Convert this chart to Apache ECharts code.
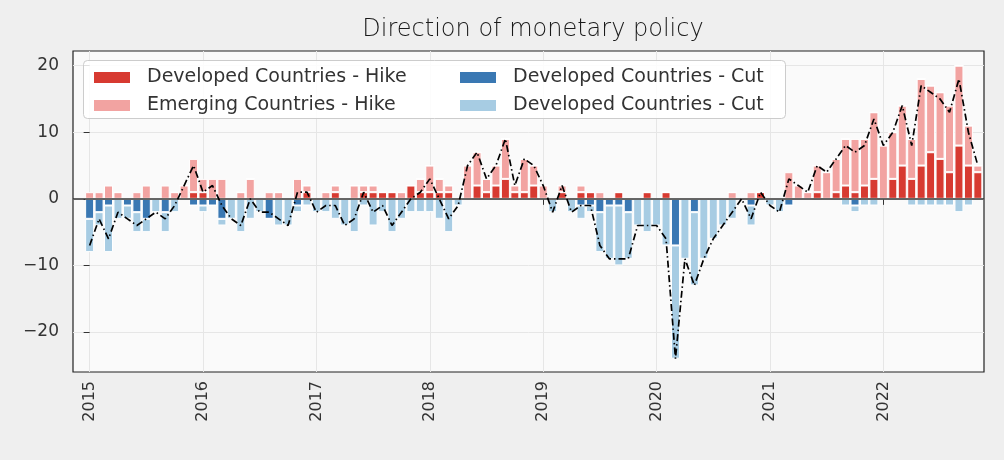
<!DOCTYPE html>
<html><head><meta charset="utf-8">
<script src="https://cdn.jsdelivr.net/npm/echarts@6/dist/echarts.min.js"></script>
<style>html,body{margin:0;padding:0;background:#efefef}#c{width:1004px;height:460px}</style>
</head><body><div id="c"></div>
<script>
// ---- data (monthly, 2015-01 .. 2022-11) ----
const startYear = 2015;
const yearLabels = ['2015','2016','2017','2018','2019','2020','2021','2022'];
const yTicks = [-20, -10, 0, 10, 20];
const dmHike = [
 0,0,0,0,0,0,0,0,0,0,0,1,
 1,0,0,0,0,0,0,0,0,0,0,1,
 0,0,1,0,0,1,1,1,1,0,2,1,
 1,1,1,0,0,2,1,2,3,1,1,2,
 0,0,1,0,1,1,0,0,1,0,0,1,
 0,1,0,0,0,0,0,0,0,0,0,1,
 0,0,0,0,0,1,0,1,2,1,2,3,
 0,3,5,3,5,7,6,4,8,5,4];
const emHike = [
 1,1,2,1,0,1,2,0,2,1,2,5,
 2,3,3,0,1,3,0,1,1,0,3,1,
 0,1,1,0,2,1,1,0,0,1,0,2,
 4,2,1,0,5,5,2,3,6,1,5,3,
 2,0,1,0,1,0,1,0,0,0,0,0,
 0,0,0,0,0,0,0,0,1,0,1,0,
 0,0,4,2,1,4,4,5,7,8,7,10,
 8,7,9,6,13,10,10,10,12,6,1];
const dmCut = [
 -3,-2,-1,0,-1,-2,-3,0,-2,0,0,-1,
 -1,-1,-3,0,0,0,0,-3,0,0,-1,0,
 0,0,0,0,0,0,0,0,0,0,0,0,
 0,0,0,0,0,0,0,0,0,0,0,0,
 0,0,0,0,-1,-1,-2,-1,-1,-2,0,0,
 0,0,-7,0,-2,0,0,0,0,0,-1,0,
 0,0,-1,0,0,0,0,0,0,-1,0,0,
 0,0,0,0,0,0,0,0,0,0,0];
const emCut = [
 -5,-2,-7,-3,-2,-3,-2,-2,-3,-2,0,0,
 -1,0,-1,-3,-5,-3,-2,0,-4,-4,-1,-1,
 -2,-2,-3,-4,-5,-1,-4,-2,-5,-3,-2,-2,
 -2,-3,-5,-1,0,0,0,0,0,0,0,0,
 0,-2,0,-2,-2,-1,-6,-8,-9,-7,-4,-5,
 -4,-7,-17,-9,-11,-9,-6,-4,-3,0,-3,0,
 -1,-2,0,0,0,0,0,0,-1,-1,-1,-1,
 0,0,0,-1,-1,-1,-1,-1,-2,-1,0];

// ---- derived ----
const yearIdx = yearLabels.map(y => (parseInt(y) - startYear) * 12);
const net = dmHike.map((v, i) => v + emHike[i] + dmCut[i] + emCut[i]);
// value first so that stacking is done on the y dimension
const toPts = arr => arr.map((v, i) => [v, i]);

const FONT = 'DejaVu Sans';
const names = ['Developed Countries - Hike', 'Emerging Countries - Hike', 'Developed Countries - Cut', 'Developed Countries - Cut '];
const colors = ['#d73a31', '#f2a3a1', '#3a78b3', '#a7cce3'];
const barData = [dmHike, emHike, dmCut, emCut];

const series = barData.map((arr, k) => ({
  name: names[k], type: 'bar', stack: 'all', barWidth: 9,
  data: toPts(arr), encode: { x: 1, y: 0 },
  itemStyle: { color: colors[k], borderColor: '#ffffff', borderWidth: 1 },
  emphasis: { disabled: true }
}));
series.push({
  name: 'Net', type: 'line', data: net.map((v, i) => [i, v]), symbol: 'none', z: 5,
  lineStyle: { color: '#000', width: 1.7, type: [7, 3, 1.5, 3] },
  markLine: { silent: true, symbol: 'none', label: { show: false }, data: [{ yAxis: 0 }],
    lineStyle: { color: '#333', width: 1.5, type: 'solid' } }
});

const chart = echarts.init(document.getElementById('c'), null, { renderer: 'canvas' });
chart.setOption({
  animation: false,
  backgroundColor: '#efefef',
  textStyle: { fontFamily: FONT },
  title: { text: 'Direction of monetary policy', left: 528, textAlign: 'center', top: 13,
    textStyle: { fontFamily: FONT, fontSize: 24, fontWeight: 300, color: '#1a1a1a' } },
  graphic: [{ type: 'rect', left: 83, top: 60, z: 10,
    shape: { width: 702, height: 58, r: 4 },
    style: { fill: 'rgba(255,255,255,0.85)', stroke: '#cccccc', lineWidth: 1 } }],
  legend: [
    { orient: 'vertical', left: 87, top: 63, itemWidth: 38, itemHeight: 13, itemGap: 9, z: 11,
      icon: 'rect', selectedMode: false, data: [names[0], names[1]],
      textStyle: { fontFamily: FONT, fontSize: 19, lineHeight: 19, color: '#333', padding: [0, 0, 0, 11] } },
    { orient: 'vertical', left: 453, top: 63, itemWidth: 38, itemHeight: 13, itemGap: 9, z: 11,
      icon: 'rect', selectedMode: false, data: [names[2], names[3]],
      textStyle: { fontFamily: FONT, fontSize: 19, lineHeight: 19, color: '#333', padding: [0, 0, 0, 11] } }
  ],
  grid: { left: 73, right: 20, top: 51, bottom: 88, show: true, backgroundColor: '#fafafa',
    borderColor: '#222', borderWidth: 1.2 },
  xAxis: { type: 'value', min: -1.76, max: 94.65,
    axisLine: { show: false },
    axisTick: { show: true, customValues: yearIdx, length: 6, lineStyle: { color: '#333' } },
    axisLabel: { customValues: yearIdx, rotate: 90, fontSize: 16, color: '#333', margin: 9, fontFamily: FONT,
      formatter: v => yearLabels[yearIdx.indexOf(Math.round(v))] || '' },
    splitLine: { show: true, lineStyle: { color: '#e6e6e6', width: 1 } } },
  yAxis: { type: 'value', min: -26, max: 22.2,
    axisLine: { show: false },
    axisTick: { show: true, customValues: yTicks, length: 6, lineStyle: { color: '#333' } },
    axisLabel: { customValues: yTicks, fontSize: 17, color: '#333', margin: 14, fontFamily: FONT,
      formatter: v => String(v).replace('-', '\u2212') },
    splitLine: { show: true, lineStyle: { color: '#e6e6e6', width: 1 } } },
  series: series
});
</script></body></html>
